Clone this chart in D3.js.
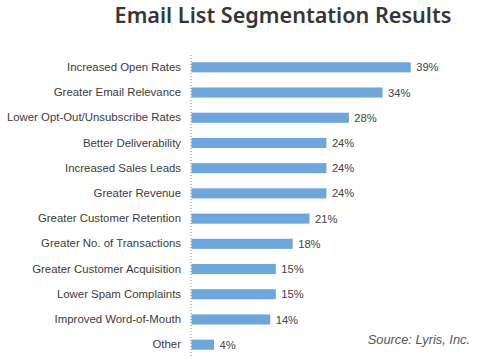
<!DOCTYPE html>
<html>
<head>
<meta charset="utf-8">
<script src="https://cdn.jsdelivr.net/npm/d3@7"></script>
<style>
  body { margin: 0; background: #fff; }
</style>
</head>
<body>
<div id="chart"></div>
<script>
const categories = [
  "Increased Open Rates",
  "Greater Email Relevance",
  "Lower Opt-Out/Unsubscribe Rates",
  "Better Deliverability",
  "Increased Sales Leads",
  "Greater Revenue",
  "Greater Customer Retention",
  "Greater No. of Transactions",
  "Greater Customer Acquisition",
  "Lower Spam Complaints",
  "Improved Word-of-Mouth",
  "Other"
];
const values = [39, 34, 28, 24, 24, 24, 21, 18, 15, 15, 14, 4];

const width = 500;
const height = 363;
const margin = {top: 55, bottom: 5, left: 191.5, right: 30};

const data = categories.map((c, i) => ({category: c, value: values[i]}));

// scales
const xScale = d3.scaleLinear()
  .domain([0, 50])
  .range([margin.left, margin.left + 50 * 5.62]);

const yScale = d3.scaleBand()
  .domain(categories)
  .range([54.7, 357.3])
  .paddingInner(0.6)
  .paddingOuter(0.3);

const svg = d3.select('#chart')
  .append('svg')
  .attr('width', width)
  .attr('height', height);

// title
svg.append('text')
  .attr('x', 283)
  .attr('y', 23)
  .attr('text-anchor', 'middle')
  .attr('font-family', 'Noto Sans')
  .attr('font-weight', 600)
  .attr('font-size', 21.6)
  .attr('fill', '#363636')
  .text('Email List Segmentation Results');

// bars
svg.selectAll('.bar')
  .data(data)
  .enter()
  .append('rect')
  .attr('class', 'bar')
  .attr('x', xScale(0))
  .attr('y', d => yScale(d.category))
  .attr('width', d => xScale(d.value) - xScale(0))
  .attr('height', yScale.bandwidth())
  .attr('fill', '#6ca6dc');

// value labels
svg.selectAll('.val')
  .data(data)
  .enter()
  .append('text')
  .attr('class', 'val')
  .attr('x', d => xScale(d.value) + 5.5)
  .attr('y', d => yScale(d.category) + yScale.bandwidth() / 2)
  .attr('dy', '0.36em')
  .attr('font-family', 'Liberation Sans, Arial, sans-serif')
  .attr('font-size', 11.2)
  .attr('fill', '#444')
  .text(d => d.value + '%');

// category axis
const yAxis = d3.axisLeft(yScale).tickSize(0).tickPadding(10);
const gAxis = svg.append('g')
  .attr('transform', `translate(${margin.left - 0.5},0)`)
  .call(yAxis);
gAxis.select('.domain').remove();
gAxis.selectAll('text')
  .attr('font-family', 'Liberation Sans, Arial, sans-serif')
  .attr('font-size', 11.4)
  .attr('fill', '#3c3c3c');

// dotted axis line
svg.append('line')
  .attr('x1', margin.left - 0.5)
  .attr('x2', margin.left - 0.5)
  .attr('y1', 55)
  .attr('y2', 358)
  .attr('stroke', '#888')
  .attr('stroke-width', 1)
  .attr('stroke-dasharray', '1,2');

// source
svg.append('text')
  .attr('x', 470)
  .attr('y', 344)
  .attr('text-anchor', 'end')
  .attr('font-family', 'Liberation Sans, Arial, sans-serif')
  .attr('font-style', 'italic')
  .attr('font-size', 12.8)
  .attr('fill', '#555')
  .text('Source: Lyris, Inc.');
</script>
</body>
</html>
